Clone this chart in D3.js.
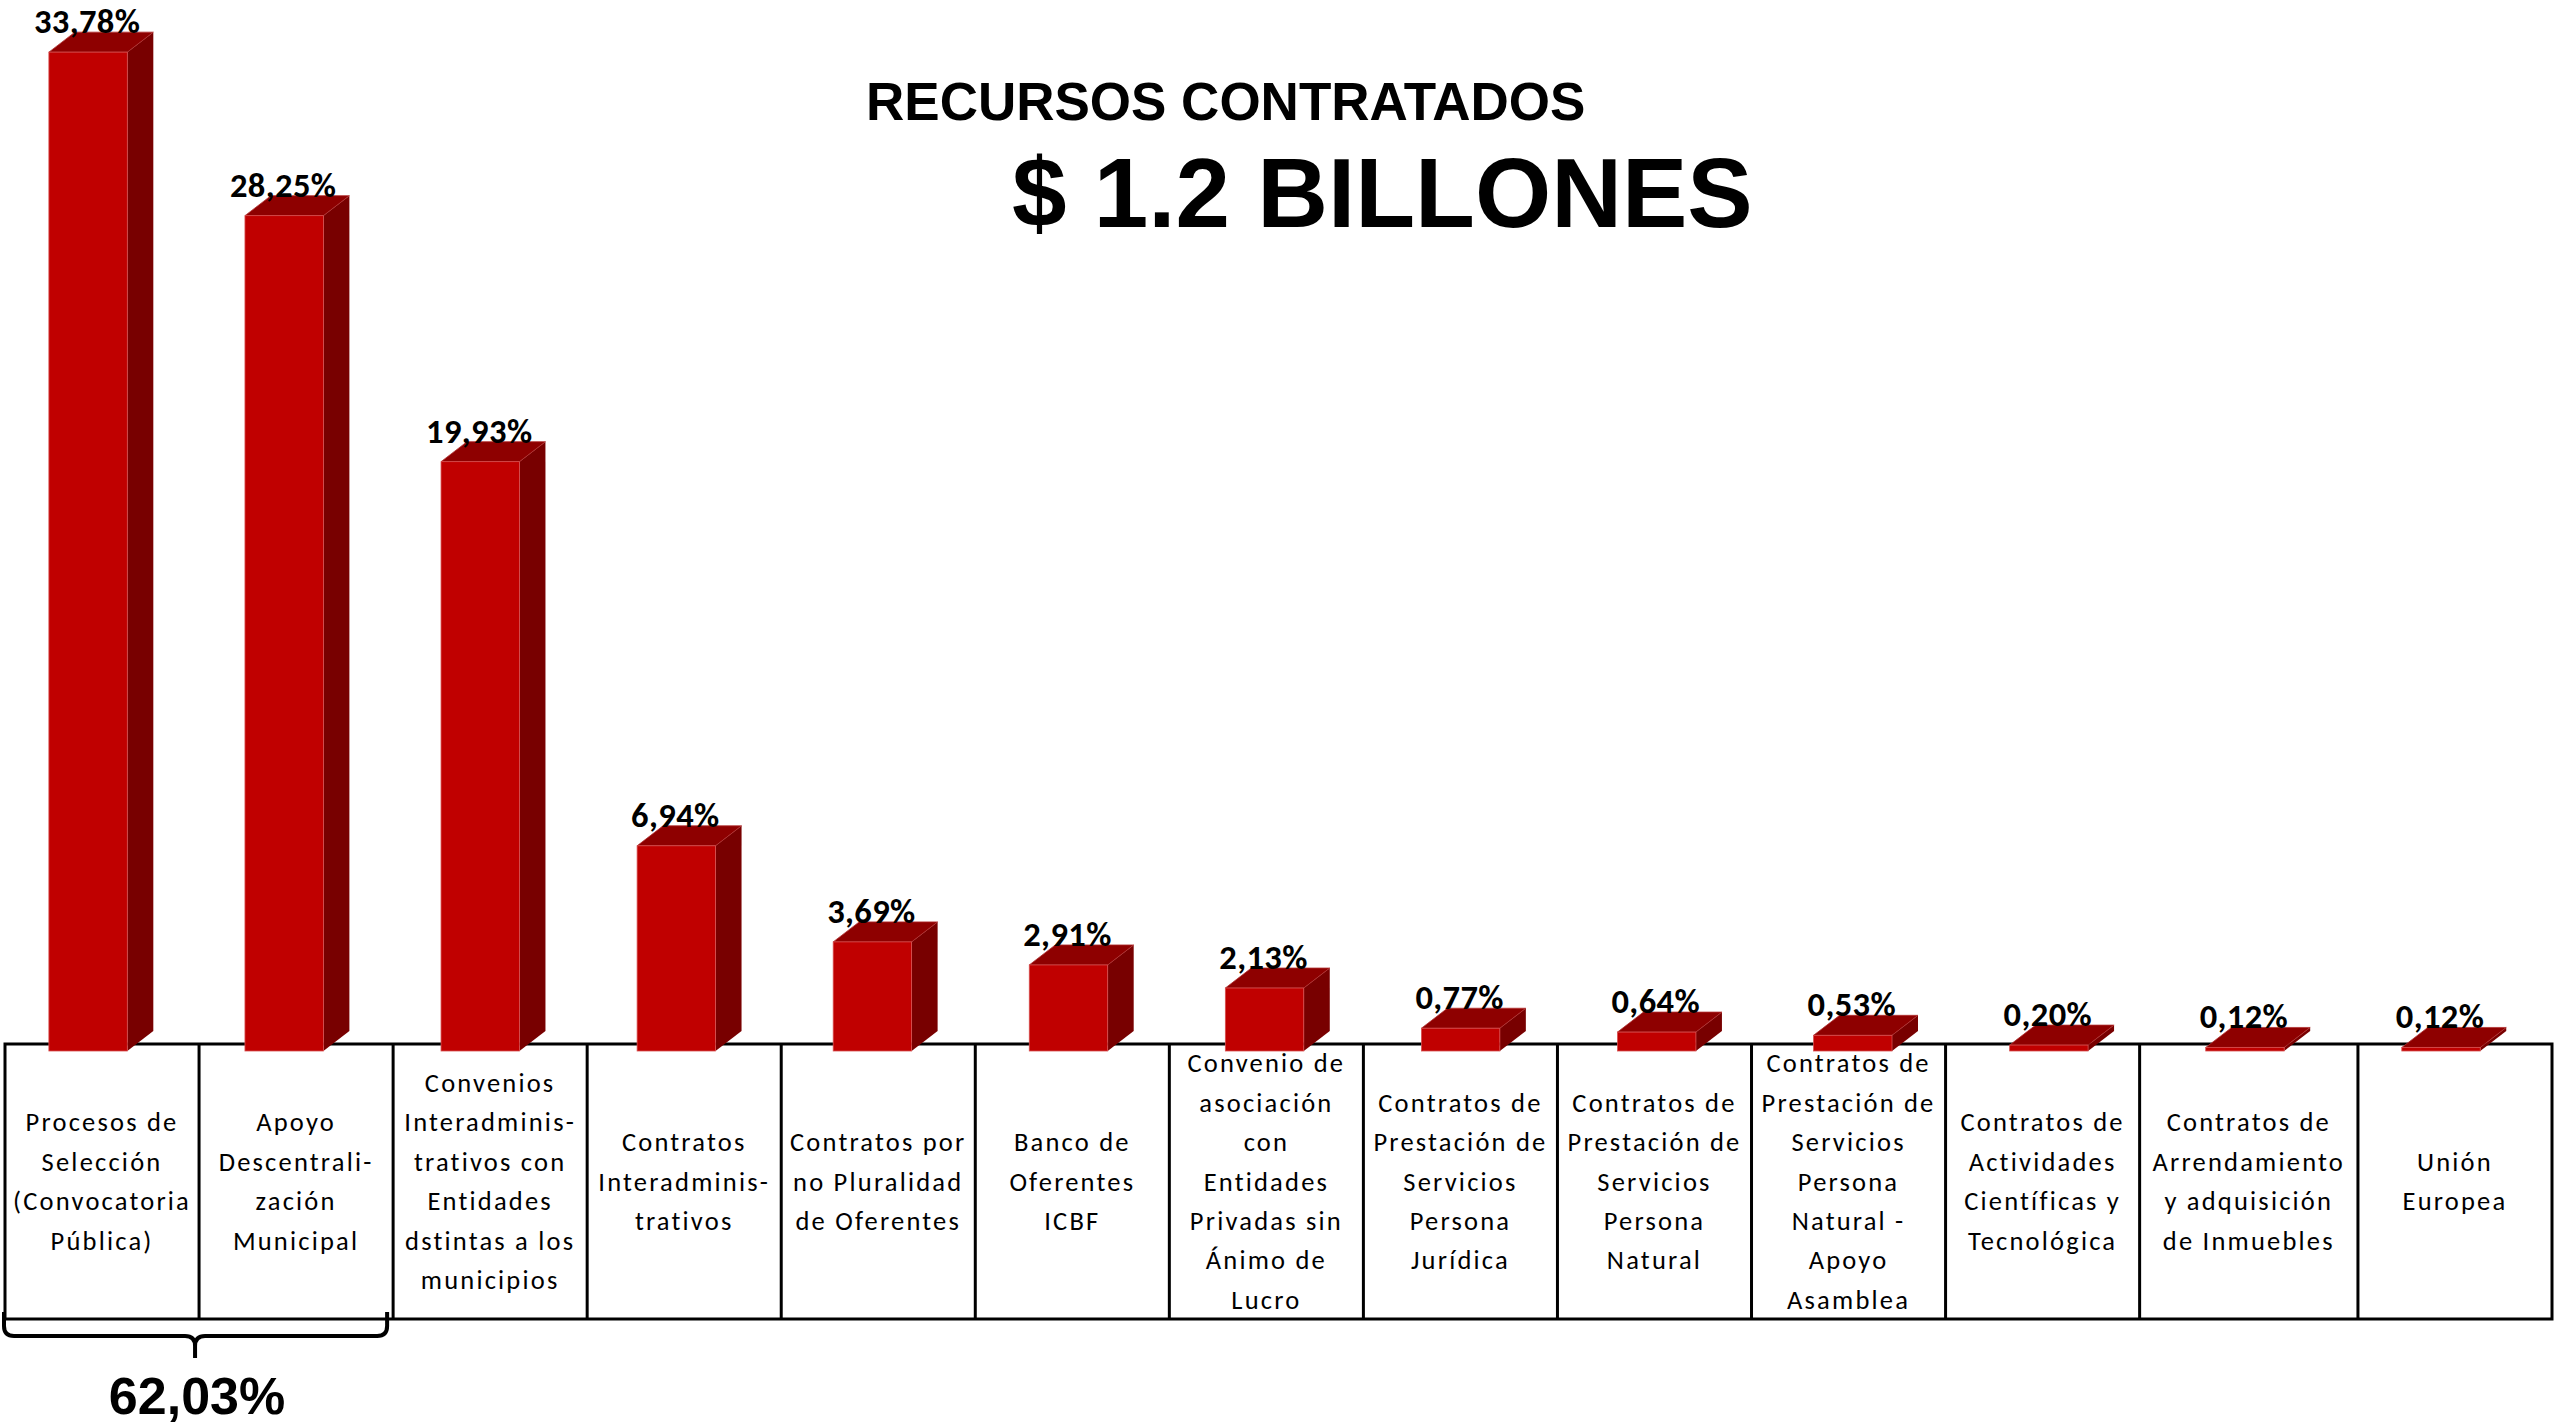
<!DOCTYPE html>
<html>
<head>
<meta charset="utf-8">
<script src="https://cdn.jsdelivr.net/npm/d3@7"></script>
<style>
  html, body { margin: 0; padding: 0; background: #ffffff; }
  svg { display: block; }
</style>
</head>
<body>
<svg id="chart" width="2557" height="1424"></svg>
<script>
// ---------------- DATA ----------------
const categories = [
  "Procesos de\nSelección\n(Convocatoria\nPública)",
  "Apoyo\nDescentrali-\nzación\nMunicipal",
  "Convenios\nInteradminis-\ntrativos con\nEntidades\ndstintas a los\nmunicipios",
  "Contratos\nInteradminis-\ntrativos",
  "Contratos por\nno Pluralidad\nde Oferentes",
  "Banco de\nOferentes\nICBF",
  "Convenio de\nasociación\ncon\nEntidades\nPrivadas sin\nÁnimo de\nLucro",
  "Contratos de\nPrestación de\nServicios\nPersona\nJurídica",
  "Contratos de\nPrestación de\nServicios\nPersona\nNatural",
  "Contratos de\nPrestación de\nServicios\nPersona\nNatural -\nApoyo\nAsamblea",
  "Contratos de\nActividades\nCientíficas y\nTecnológica",
  "Contratos de\nArrendamiento\ny adquisición\nde Inmuebles",
  "Unión\nEuropea"
];
const values = [33.78, 28.25, 19.93, 6.94, 3.69, 2.91, 2.13, 0.77, 0.64, 0.53, 0.20, 0.12, 0.12];
const titleLine1 = "RECURSOS CONTRATADOS";
const titleLine2 = "$ 1.2 BILLONES";
const groupedCount = 2;          // first two categories grouped by the brace
const groupedLabel = "62,03%";

// ---------------- LAYOUT ----------------
const svg = d3.select("#chart");
const tableTop = 1044, tableBottom = 1319;
const tableLeft = 5, tableRight = 2552;
const baseY = 1051;

const locale = d3.formatLocale({decimal: ",", thousands: ".", grouping: [3], currency: ["$", ""]});
const fmt = v => locale.format(".2f")(v) + "%";

// bars: evenly spaced band scale
const x = d3.scaleBand().domain(categories).range([3, 2552]).paddingInner(0).paddingOuter(0);
const y = d3.scaleLinear().domain([0, 35]).range([baseY, baseY - 35 * 29.57]);

const barOffset = x.bandwidth() * 0.234;
const barW = x.bandwidth() * 0.40;
const dx = 26, dy = 20;

const colFront = "#C00000", colTop = "#8E0000", colSide = "#780000";

// table: relative column widths (one wider column, as in the original slide table)
const colWeight = categories.map((c, i) => i === 11 ? 1.125 : 1);
const cum = d3.cumsum(colWeight);
const tx = d3.scaleLinear().domain([0, cum[cum.length - 1]]).range([tableLeft, tableRight]);
const colL = i => tx(i === 0 ? 0 : cum[i - 1]);
const colR = i => tx(cum[i]);

// ---------------- TABLE ----------------
const table = svg.append("g");
table.append("rect")
  .attr("x", tableLeft).attr("y", tableTop)
  .attr("width", tableRight - tableLeft).attr("height", tableBottom - tableTop)
  .attr("fill", "#fff").attr("stroke", "#000").attr("stroke-width", 3);
table.selectAll("line.div").data(d3.range(1, categories.length)).join("line")
  .attr("class", "div")
  .attr("x1", i => colL(i)).attr("x2", i => colL(i))
  .attr("y1", tableTop).attr("y2", tableBottom)
  .attr("stroke", "#000").attr("stroke-width", 3);

const lineH = 39.4;
const midY = (tableTop + tableBottom) / 2;
table.selectAll("text.cat").data(categories).join("text")
  .attr("class", "cat")
  .attr("text-anchor", "middle")
  .attr("font-family", "Carlito, Lato, 'Open Sans', sans-serif")
  .attr("font-size", 26.5)
  .attr("letter-spacing", 2.2)
  .attr("fill", "#000")
  .each(function(d, idx) {
    const lines = d.split("\n");
    const t = d3.select(this);
    const cx = (colL(idx) + colR(idx)) / 2;
    lines.forEach((ln, i) => {
      t.append("tspan")
        .attr("x", cx)
        .attr("y", midY + (i - (lines.length - 1) / 2) * lineH + 9)
        .text(ln);
    });
  });

// ---------------- BARS (3D) ----------------
const bars = svg.append("g");
const bg = bars.selectAll("g.bar").data(categories.map((c, i) => ({c, v: values[i]}))).join("g").attr("class", "bar");

bg.append("path") // side
  .attr("d", d => {
    const x0 = x(d.c) + barOffset + barW, yT = y(d.v), yB = y(0);
    return `M${x0},${yT} L${x0 + dx},${yT - dy} L${x0 + dx},${yB - dy} L${x0},${yB} Z`;
  })
  .attr("fill", colSide);
bg.append("path") // top
  .attr("d", d => {
    const x0 = x(d.c) + barOffset, yT = y(d.v);
    return `M${x0},${yT} L${x0 + dx},${yT - dy} L${x0 + barW + dx},${yT - dy} L${x0 + barW},${yT} Z`;
  })
  .attr("fill", colTop).attr("stroke", "#b03030").attr("stroke-width", 0.8);
bg.append("rect") // front
  .attr("x", d => x(d.c) + barOffset)
  .attr("y", d => y(d.v))
  .attr("width", barW)
  .attr("height", d => y(0) - y(d.v))
  .attr("fill", colFront).attr("stroke", "#d85050").attr("stroke-width", 0.8);

bg.append("text")
  .attr("x", d => x(d.c) + barOffset + barW / 2 - 1)
  .attr("y", d => y(d.v) - dy + 1)
  .attr("text-anchor", "middle")
  .attr("font-family", "Carlito, Lato, sans-serif")
  .attr("font-weight", "bold")
  .attr("font-size", 34.5)
  .attr("letter-spacing", 0.4)
  .attr("fill", "#000")
  .text(d => fmt(d.v));

// ---------------- TITLE ----------------
svg.append("text")
  .attr("x", 866).attr("y", 120)
  .attr("font-family", "'Liberation Sans', Arial, sans-serif")
  .attr("font-weight", "bold").attr("font-size", 53)
  .attr("fill", "#000")
  .text(titleLine1);
svg.append("text")
  .attr("x", 1012).attr("y", 227)
  .attr("font-family", "'Liberation Sans', Arial, sans-serif")
  .attr("font-weight", "bold").attr("font-size", 98)
  .attr("fill", "#000")
  .text(titleLine2);

// ---------------- BRACE ----------------
const bx0 = colL(0) - 1;
const bx1 = colR(groupedCount - 1) - 6;
const bmid = (colL(0) + colR(groupedCount - 1)) / 2 - 4;
const byTop = 1312, byMid = 1336, byTip = 1358, r = 10;
svg.append("path")
  .attr("d", `M${bx0},${byTop} L${bx0},${byMid - r} Q${bx0},${byMid} ${bx0 + r},${byMid}
              L${bmid - r},${byMid} Q${bmid},${byMid} ${bmid},${byMid + r} L${bmid},${byTip}
              M${bmid},${byMid + r} Q${bmid},${byMid} ${bmid + r},${byMid}
              L${bx1 - r},${byMid} Q${bx1},${byMid} ${bx1},${byMid - r} L${bx1},${byTop}`)
  .attr("fill", "none").attr("stroke", "#000").attr("stroke-width", 4);
svg.append("text")
  .attr("x", bmid + 2).attr("y", 1414)
  .attr("text-anchor", "middle")
  .attr("font-family", "'Liberation Sans', Arial, sans-serif")
  .attr("font-weight", "bold").attr("font-size", 52)
  .attr("fill", "#000")
  .text(groupedLabel);
</script>
</body>
</html>
